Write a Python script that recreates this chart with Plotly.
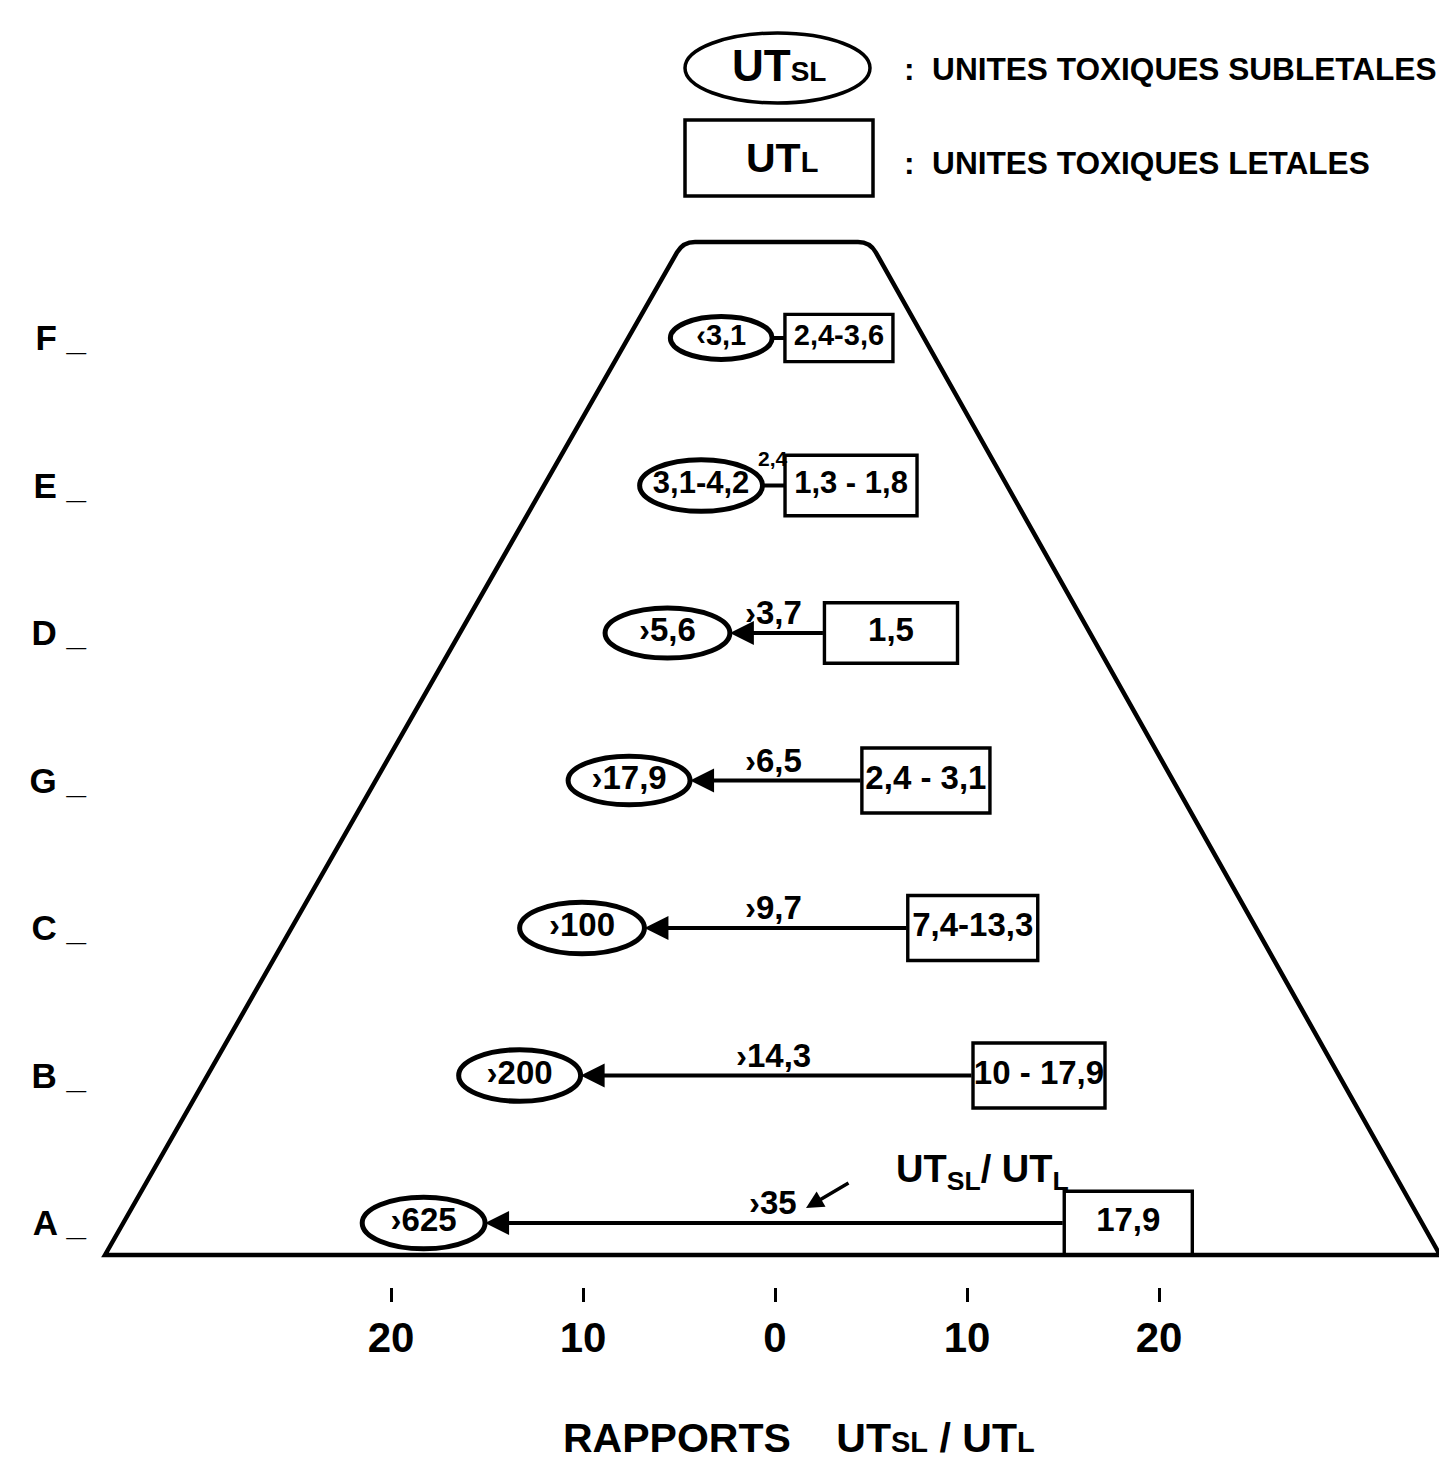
import plotly.graph_objects as go

# rows from bottom (A) to top (F)
rows = ["A", "B", "C", "G", "D", "E", "F"]
sublethal = ["›625", "›200", "›100", "›17,9", "›5,6", "3,1-4,2", "‹3,1"]
lethal = ["17,9", "10 - 17,9", "7,4-13,3", "2,4 - 3,1", "1,5", "1,3 - 1,8", "2,4-3,6"]
ratios = ["›35", "›14,3", "›9,7", "›6,5", "›3,7", "2,4", ""]
sl_pos = [-18.3, -13.3, -10.05, -7.6, -5.6, -3.85, -2.8]
l_pos = [18.4, 13.75, 10.3, 7.86, 6.04, 3.96, 3.33]
tick_vals = [-20, -10, 0, 10, 20]
tick_text = ["20", "10", "0", "10", "20"]

PAD = 8                 # page body margin
W, H = 1447 - PAD, 1463 - PAD
X0, SX = 775, 19.2      # pixel of x=0, pixels per unit
Y0, SY = 1223, 147.5    # pixel of row A, pixels per row


def ux(px):
    return (px - X0) / SX


def vy(py):
    return (Y0 - py) / SY


FONT = "Liberation Sans"
ell_w = [6.4, 6.35, 6.5, 6.35, 6.5, 6.4, 5.3]
ell_h = [0.35, 0.35, 0.35, 0.33, 0.34, 0.35, 0.29]
box_w = [6.67, 6.875, 6.77, 6.67, 6.93, 6.875, 5.625]
box_h = [0.43, 0.44, 0.44, 0.44, 0.41, 0.41, 0.32]
lab_size = [33, 33, 33, 33, 33, 31, 29]

ypos = list(range(len(rows)))

fig = go.Figure()

fig.add_trace(go.Scatter(
    x=sl_pos, y=ypos, mode="text", text=["<b>%s</b>" % t for t in sublethal],
    textfont=dict(family=FONT, size=lab_size, color="black"),
    textposition="middle center", hoverinfo="skip", showlegend=False))
fig.add_trace(go.Scatter(
    x=l_pos, y=ypos, mode="text", text=["<b>%s</b>" % t for t in lethal],
    textfont=dict(family=FONT, size=lab_size, color="black"),
    textposition="middle center", hoverinfo="skip", showlegend=False))

shapes = []
# trapezoid
tl = [(677, 252.4), (683, 242), (695, 242)]
tr = [(858, 242), (870, 242), (875.9, 252.5)]
path = "M %f,%f L %f,%f Q %f,%f %f,%f L %f,%f Q %f,%f %f,%f L %f,%f Z" % (
    ux(105), vy(1255),
    ux(tl[0][0]), vy(tl[0][1]), ux(tl[1][0]), vy(tl[1][1]), ux(tl[2][0]), vy(tl[2][1]),
    ux(tr[0][0]), vy(tr[0][1]), ux(tr[1][0]), vy(tr[1][1]), ux(tr[2][0]), vy(tr[2][1]),
    ux(1440), vy(1255))
shapes.append(dict(type="path", path=path, xref="x", yref="y",
                   line=dict(color="black", width=4.5), layer="below"))

annotations = []
for i, r in enumerate(rows):
    shapes.append(dict(type="circle", xref="x", yref="y",
                       x0=sl_pos[i] - ell_w[i] / 2, x1=sl_pos[i] + ell_w[i] / 2,
                       y0=i - ell_h[i] / 2, y1=i + ell_h[i] / 2,
                       line=dict(color="black", width=5), layer="below"))
    shapes.append(dict(type="rect", xref="x", yref="y",
                       x0=l_pos[i] - box_w[i] / 2, x1=l_pos[i] + box_w[i] / 2,
                       y0=i - box_h[i] / 2, y1=i + box_h[i] / 2,
                       line=dict(color="black", width=3.4), layer="below"))
    xe = sl_pos[i] + ell_w[i] / 2
    xb = l_pos[i] - box_w[i] / 2
    if xb - xe > 3:
        annotations.append(dict(x=xe, y=i, ax=xb, ay=i, xref="x", yref="y",
                                axref="x", ayref="y", text="", showarrow=True,
                                arrowhead=2, arrowsize=1.2, arrowwidth=4,
                                arrowcolor="black"))
    else:
        shapes.append(dict(type="line", xref="x", yref="y", x0=xe, x1=xb, y0=i, y1=i,
                           line=dict(color="black", width=4)))
    if ratios[i]:
        small = not ratios[i].startswith("›")
        annotations.append(dict(x=-0.1, y=i, xref="x", yref="y", xanchor="center",
                                yanchor="bottom", yshift=14 if small else 0,
                                text="<b>%s</b>" % ratios[i], showarrow=False,
                                font=dict(family=FONT, size=21 if small else 33,
                                          color="black")))

# legend
shapes.append(dict(type="circle", xref="x", yref="y", x0=ux(685), x1=ux(870),
                   y0=vy(103), y1=vy(33), line=dict(color="black", width=3.5)))
shapes.append(dict(type="rect", xref="x", yref="y", x0=ux(685), x1=ux(873),
                   y0=vy(196), y1=vy(120), line=dict(color="black", width=3.5)))
annotations.append(dict(x=ux(779), y=vy(65), xref="x", yref="y", showarrow=False,
                        text="<b>UT<span style='font-size:28px'>SL</span></b>",
                        font=dict(family=FONT, size=44, color="black")))
annotations.append(dict(x=ux(782), y=vy(158), xref="x", yref="y", showarrow=False,
                        text="<b>UT<span style='font-size:29px'>L</span></b>",
                        font=dict(family=FONT, size=41, color="black")))
annotations.append(dict(x=ux(902), y=vy(69), xref="x", yref="y", showarrow=False,
                        xanchor="left",
                        text="<b>:  UNITES TOXIQUES SUBLETALES</b>",
                        font=dict(family=FONT, size=31.6, color="black")))
annotations.append(dict(x=ux(902), y=vy(163), xref="x", yref="y", showarrow=False,
                        xanchor="left",
                        text="<b>:  UNITES TOXIQUES LETALES</b>",
                        font=dict(family=FONT, size=31.6, color="black")))

# UTSL/UTL note near row A
annotations.append(dict(x=ux(982), y=vy(1172), xref="x", yref="y", showarrow=False,
                        text="<b>UT<sub>SL</sub>/ UT<sub>L</sub></b>",
                        font=dict(family=FONT, size=38, color="black")))
annotations.append(dict(x=ux(806), y=vy(1208), xref="x", yref="y", ax=44, ay=-26,
                        text="", showarrow=True, arrowhead=2, arrowsize=1,
                        arrowwidth=3.5, arrowcolor="black"))

# axis title
annotations.append(dict(x=ux(799), y=vy(1438), xref="x", yref="y", showarrow=False,
                        text="<b>RAPPORTS    UT<span style='font-size:29px'>SL</span>"
                             " / UT<span style='font-size:29px'>L</span></b>",
                        font=dict(family=FONT, size=41, color="black")))

fig.update_layout(
    width=W, height=H,
    margin=dict(l=0, r=0, t=0, b=0),
    paper_bgcolor="white", plot_bgcolor="white",
    shapes=shapes, annotations=annotations,
    showlegend=False,
    xaxis=dict(range=[ux(PAD), ux(PAD + W)], anchor="free",
               position=1 - (1287 - PAD) / H,
               tickvals=tick_vals, ticktext=["<b>%s</b>" % t for t in tick_text],
               ticks="outside", ticklen=14, tickwidth=3, tickcolor="black",
               tickfont=dict(family=FONT, size=42, color="black"),
               showgrid=False, zeroline=False, showline=False, fixedrange=True),
    yaxis=dict(range=[vy(PAD + H), vy(PAD)], anchor="free",
               position=(86 - PAD) / W,
               tickvals=ypos, ticktext=["<b>%s _</b>" % r for r in rows],
               ticks="", tickfont=dict(family=FONT, size=35, color="black"),
               showgrid=False, zeroline=False, showline=False, fixedrange=True),
)

fig.write_html("out.html")
